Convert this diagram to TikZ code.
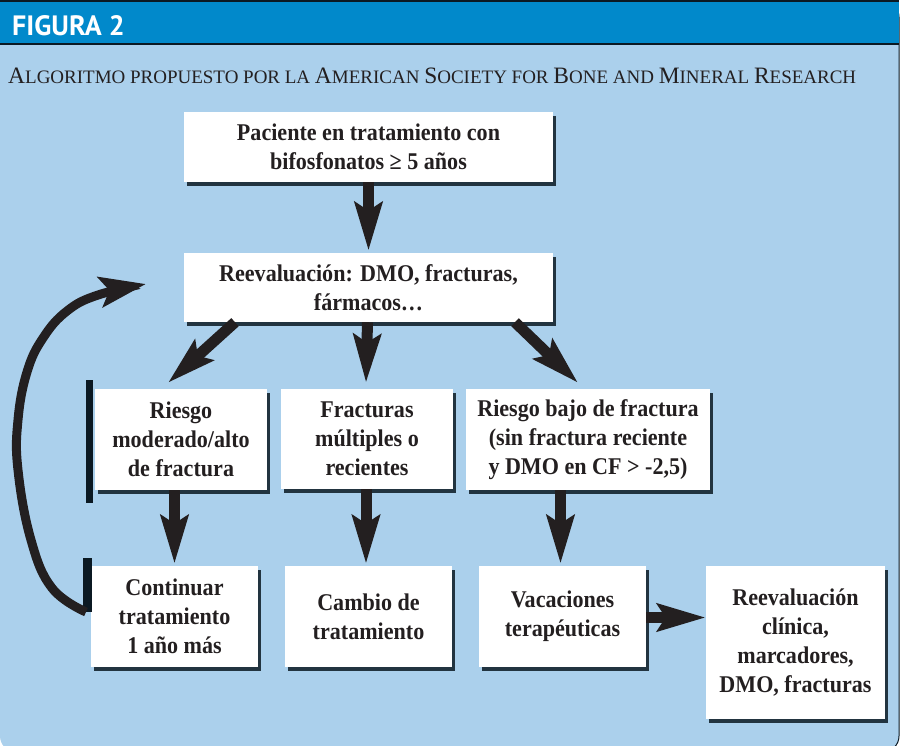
\documentclass[tikz,border=0pt]{standalone}
\usepackage{fontspec}
\setmainfont{Liberation Serif}
\newfontfamily\boxfont{Liberation Serif}[FakeStretch=0.92]
\newfontfamily\hdfont{PT Sans}
\usetikzlibrary{arrows.meta,shadows,calc}
\definecolor{bgblue}{HTML}{ABD0EC}
\definecolor{hdblue}{HTML}{0189CB}
\definecolor{ink}{HTML}{231F20}
\definecolor{navy}{HTML}{0B1923}
\newcommand{\bigsc}[1]{{\fontsize{23.5}{26}\selectfont #1}}
\newcommand{\smsc}[1]{{\fontsize{19}{26}\selectfont #1}}
\tikzset{
  boxst/.style={fill=white, inner sep=0pt, align=center, text=ink,
    font=\boxfont\bfseries\fontsize{24}{29}\selectfont,
    drop shadow={shadow xshift=3pt, shadow yshift=-4pt, fill=navy, opacity=0.85}},
  arr/.style={draw=ink, line width=11pt, -{Stealth[length=48pt, width=27pt, inset=8pt]}},
  looparr/.style={draw=ink, line width=9pt, -{Stealth[length=46pt, width=30pt, inset=9pt]}},
  barst/.style={fill=navy}
}
\begin{document}
\begin{tikzpicture}[x=1pt,y=-1pt]
\useasboundingbox (0,0) rectangle (904,745);
\fill[white] (0,0) rectangle (904,745);
\begin{scope}
\clip (0,0) rectangle (904,745);
\fill[bgblue, rounded corners=16pt] (0,1) rectangle (899,752);
\draw[navy, line width=1pt, rounded corners=16pt] (-2,1) -- (899,1) -- (899,752) -- (-2,752);
\end{scope}
% header
\fill[hdblue] (0,1.5) rectangle (899,44);
\draw[navy, line width=1.6pt] (0,1.2) -- (899,1.2);
\draw[navy, line width=1.6pt] (0,44) -- (899,44);
\node[anchor=base west, inner sep=0pt, text=white, font=\hdfont\bfseries\fontsize{28}{30}\selectfont] (title) at (12,35.5) {FIGURA 2};
\node[anchor=base west, inner sep=0pt, text=ink] (sub) at (8,83) {\resizebox{848pt}{!}{\bigsc{A}\smsc{LGORITMO PROPUESTO POR LA }\bigsc{A}\smsc{MERICAN }\bigsc{S}\smsc{OCIETY FOR }\bigsc{B}\smsc{ONE AND }\bigsc{M}\smsc{INERAL }\bigsc{R}\smsc{ESEARCH}}};

% boxes
\node[boxst, minimum width=369pt, minimum height=70pt] (p) at (368.5,147) {Paciente en tratamiento con\\bifosfonatos ≥ 5 años};
\node[boxst, minimum width=369pt, minimum height=69pt] (r) at (368.5,287.5) {Reevaluación: DMO, fracturas,\\fármacos…};
\node[boxst, minimum width=172pt, minimum height=101pt] (rm) at (181,439.5) {Riesgo\\moderado/alto\\de fractura};
\node[boxst, minimum width=172pt, minimum height=100pt] (fm) at (367,439) {Fracturas\\múltiples o\\recientes};
\node[boxst, minimum width=244pt, minimum height=101pt] (rb) at (588,439.5) {Riesgo bajo de fractura\\(sin fractura reciente\\y DMO en CF > -2,5)};
\node[boxst, minimum width=167pt, minimum height=101pt] (co) at (174.5,616.5) {Continuar\\tratamiento\\1 año más};
\node[boxst, minimum width=167pt, minimum height=101pt] (cb) at (368.5,616.5) {Cambio de\\tratamiento};
\node[boxst, minimum width=167pt, minimum height=101pt] (va) at (562.5,616.5) {Vacaciones\\terapéuticas};
\node[boxst, minimum width=179pt, minimum height=153pt] (rc) at (795.5,642.5) {Reevaluación\\clínica,\\marcadores,\\DMO, fracturas};

% side bars
\fill[barst] (86,380) rectangle (93,503);
\fill[barst] (83,558) rectangle (92,612);

% arrows
\draw[arr] (p.south) -- ([yshift=2pt]r.north);
\draw[arr] ([xshift=-133.5pt]r.south) -- ([xshift=-13pt,yshift=6pt]rm.north);
\draw[arr] ([xshift=-1pt]r.south) -- ([xshift=-1pt,yshift=6pt]fm.north);
\draw[arr] ([xshift=146.5pt]r.south) -- ([xshift=-10pt,yshift=6pt]rb.north);
\draw[arr] (co.north |- rm.south) -- ([yshift=2pt]co.north);
\draw[arr] ([xshift=-1pt]fm.south) -- ([xshift=-1pt,yshift=2pt]fm.south |- cb.north);
\draw[arr] ([xshift=-2pt]va.north |- rb.south) -- ([xshift=-2pt,yshift=2pt]va.north);
\draw[arr] ([yshift=-1pt]va.east) -- ([yshift=-1pt]va.east -| rc.west);

% loop back arrow
\coordinate (lp0) at (86,612);
\coordinate (lpend) at (146,284);
\draw[looparr] plot[smooth, tension=0.7] coordinates {(lp0) (52,588) (31,540) (18,470) (18,420) (27,372) (43,338) (67,311) (98,295) (lpend)};
\end{tikzpicture}
\end{document}
